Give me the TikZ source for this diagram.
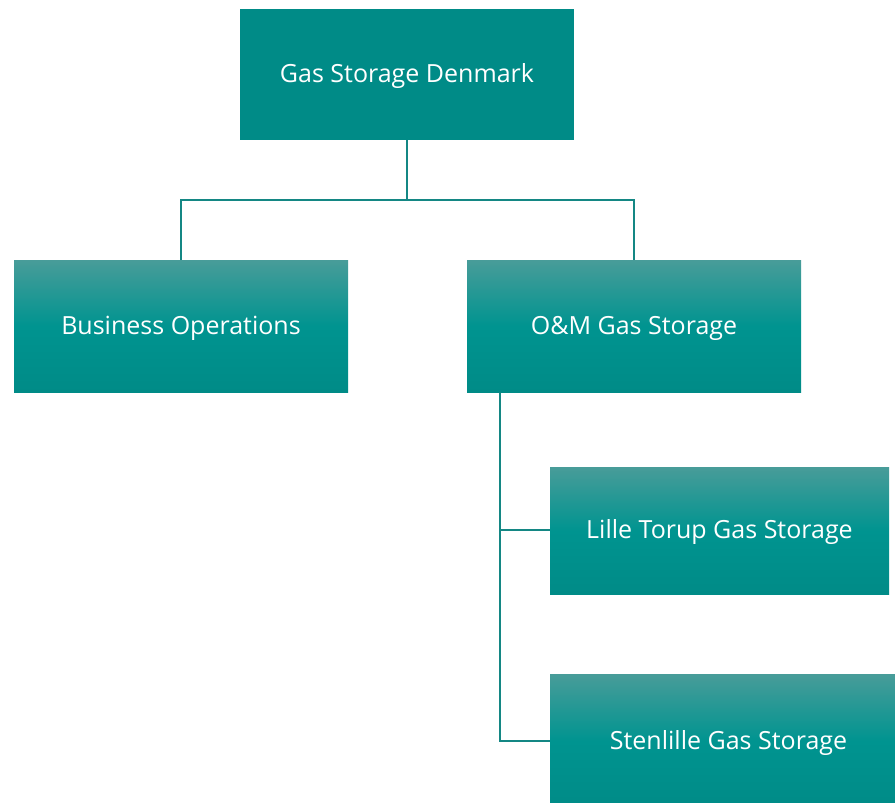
\documentclass[tikz,border=0pt]{standalone}
\usepackage{fontspec}
\setmainfont{Open Sans}
\definecolor{tealD}{RGB}{0,139,135}
\definecolor{tealM}{RGB}{0,148,144}
\definecolor{tealT}{RGB}{72,156,153}
\definecolor{lineC}{RGB}{20,135,132}
\tikzset{
  solidbox/.style={fill=tealD, draw=none},
  gradbox/.style={top color=tealT, bottom color=tealD, middle color=tealM, draw=none},
  boxtext/.style={text=white, font=\fontsize{25}{29}\selectfont, anchor=center, inner sep=0pt, yshift=-2pt},
  conn/.style={draw=lineC, line width=1.3pt}
}
\begin{document}
\begin{tikzpicture}[x=1pt,y=-1pt]
\useasboundingbox (0,0) rectangle (895,803);
\clip (0,0) rectangle (895,803);
\fill[white] (0,0) rectangle (895,803);
% boxes
\path[solidbox] (240,9) rectangle (574,140);
\path[gradbox] (14,260) rectangle (348,392);
\path[gradbox] (467,260) rectangle (801,392);
\path[gradbox] (550,467) rectangle (889,594);
\path[gradbox] (550,674) rectangle (907,808);
\node[boxtext] (gsd) at (407,74) {Gas Storage Denmark};
\node[boxtext] (bo) at (181,326) {Business Operations};
\node[boxtext] (om) at (634,326) {O\&M Gas Storage};
\node[boxtext] (lt) at (719.5,530.5) {Lille Torup Gas Storage};
\node[boxtext] (st) at (728.5,741) {Stenlille Gas Storage};
% anchor coordinates
\coordinate (gsdB) at (407,140);
\coordinate (boT) at (181,260);
\coordinate (omT) at (634,260);
\coordinate (omB) at (500,392);
\coordinate (ltL) at (550,530);
\coordinate (stL) at (550,741);
% connectors
\draw[conn] (gsdB) -- (407,200) -| (boT);
\draw[conn] (407,200) -| (omT);
\draw[conn] (omB) |- (stL);
\draw[conn] (500,530) -- (ltL);
\end{tikzpicture}
\end{document}
